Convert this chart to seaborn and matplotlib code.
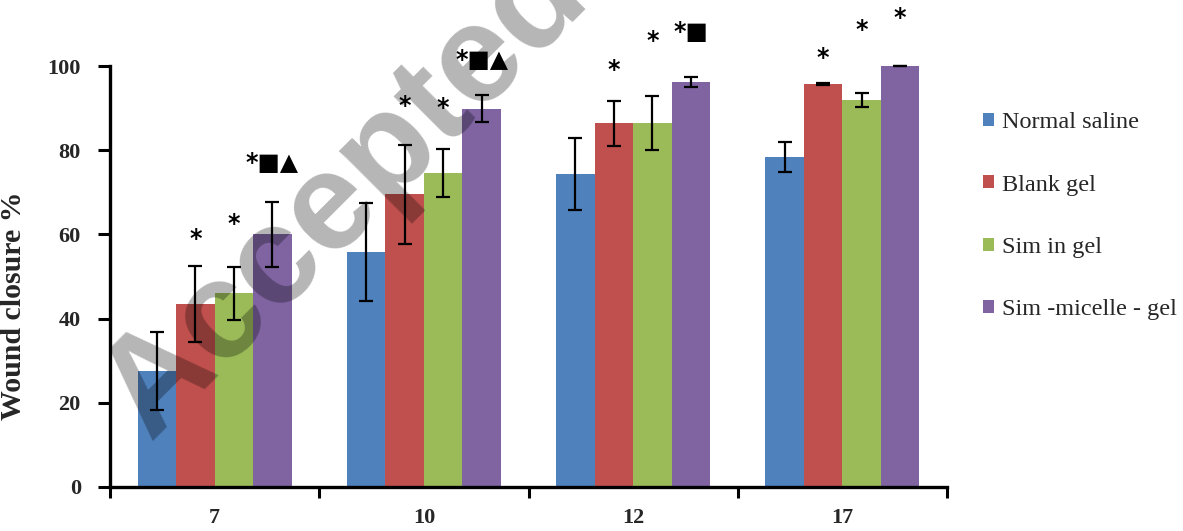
import matplotlib
matplotlib.use("Agg")
import matplotlib.pyplot as plt
import seaborn as sns
import pandas as pd
import numpy as np

# ---- data ----
days = ["7", "10", "12", "17"]
series = ["Normal saline", "Blank gel", "Sim in gel", "Sim -micelle - gel"]
normal_saline = [27.5, 55.8, 74.3, 78.4]
blank_gel = [43.5, 69.5, 86.4, 95.8]
sim_in_gel = [46.0, 74.6, 86.4, 92.0]
sim_micelle_gel = [60.0, 89.8, 96.3, 100.0]
err_normal_saline = [9.3, 11.6, 8.6, 3.5]
err_blank_gel = [9.0, 11.8, 5.4, 0.2]
err_sim_in_gel = [6.3, 5.7, 6.4, 1.7]
err_sim_micelle_gel = [7.8, 3.2, 1.2, 0.1]
# significance labels and their heights (in % units)
sig_labels = [
    ["", "*", "*", "*\u25A0\u25B2"],
    ["", "*", "*", "*\u25A0\u25B2"],
    ["", "*", "*", "*\u25A0"],
    ["", "*", "*", "*"],
]
sig_heights = [
    [0, 59.0, 62.5, 77.0],
    [0, 90.5, 90.0, 101.5],
    [0, 99.0, 106.0, 108.0],
    [0, 102.0, 108.5, 111.5],
]

colors = ["#4F81BD", "#C0504D", "#9BBB59", "#8064A2"]

values = [normal_saline, blank_gel, sim_in_gel, sim_micelle_gel]
errors = [err_normal_saline, err_blank_gel, err_sim_in_gel, err_sim_micelle_gel]

rows = []
for s, vals in zip(series, values):
    for d, v in zip(days, vals):
        rows.append({"Day": d, "Group": s, "Value": v})
df = pd.DataFrame(rows)

sns.set_style("white")
plt.rcParams["font.family"] = ["Liberation Serif", "DejaVu Sans"]

fig = plt.figure(figsize=(11.83, 5.31), dpi=100)
ax = fig.add_axes([0.093, 0.083, 0.7075, 0.7927])

sns.barplot(data=df, x="Day", y="Value", hue="Group", order=days,
            hue_order=series, palette=colors, width=0.735, errorbar=None,
            saturation=1, ax=ax, legend=True, linewidth=0)

# error bars and significance marks
bar_containers = list(ax.containers)
for si, cont in enumerate(bar_containers):
    for di, bar in enumerate(cont.patches):
        xc = bar.get_x() + bar.get_width() / 2
        h = bar.get_height()
        ax.errorbar(xc, h, yerr=errors[si][di], fmt="none", ecolor="black",
                    elinewidth=1.6, capsize=5, capthick=1.6, zorder=5, clip_on=False)
        lab = sig_labels[di][si]
        if lab:
            ax.text(xc, sig_heights[di][si], lab, ha="center", va="center",
                    fontsize=17, fontweight="bold", color="black",
                    family="DejaVu Sans", clip_on=False)

ax.set_ylim(0, 100)
ax.set_xlim(-0.5, 3.5)
ax.set_yticks([0, 20, 40, 60, 80, 100])
ax.set_yticklabels(["0", "20", "40", "60", "80", "100"], fontsize=16,
                   fontweight="bold")
ax.set_xticks([-0.5, 0.5, 1.5, 2.5, 3.5])
ax.set_xticklabels([])
ax.set_xticks(range(len(days)), minor=True)
ax.set_xticklabels(days, minor=True, fontsize=16, fontweight="bold")
ax.tick_params(axis="x", which="major", direction="out", length=8, width=2.2,
               color="black", bottom=True)
ax.tick_params(axis="x", which="minor", length=0, pad=15)
ax.tick_params(axis="y", direction="out", length=9, width=2.2, color="black",
               left=True, pad=12)
ax.set_xlabel("")
ax.set_ylabel("Wound closure %", fontsize=21.5, fontweight="bold")
ax.yaxis.set_label_coords(-0.099, 0.43)
for sp in ["top", "right"]:
    ax.spines[sp].set_visible(False)
for sp in ["left", "bottom"]:
    ax.spines[sp].set_linewidth(2.4)
    ax.spines[sp].set_color("black")

# legend
handles, labels = ax.get_legend_handles_labels()
ax.legend_.remove()
fig.legend(handles, labels, loc="upper left", bbox_to_anchor=(0.823, 0.807),
           frameon=False, fontsize=17.5, handlelength=0.45, handleheight=0.45,
           handletextpad=0.3, labelspacing=1.7, borderaxespad=0)

# watermark
fig.text(0.1268, 0.1695, "Accepted", fontsize=100, family="Liberation Sans",
         fontweight="bold", color="black", alpha=0.29, rotation=45,
         rotation_mode="anchor", ha="left", va="baseline", zorder=20)

fig.savefig("out.png", dpi=100)
